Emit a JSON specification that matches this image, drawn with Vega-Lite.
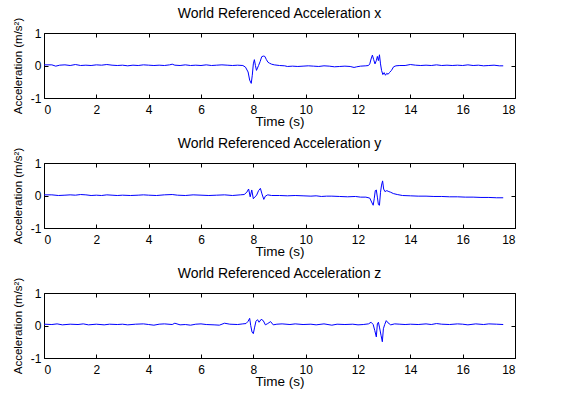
{
  "$schema": "https://vega.github.io/schema/vega-lite/v6.json",
  "background": "white",
  "padding": {"left": 11, "top": 6, "right": 5, "bottom": 5},
  "data": {"values": [
    {"p":"x","t":0,"v":0.02},{"p":"x","t":0.3,"v":0.02},{"p":"x","t":0.45,"v":-0.02},{"p":"x","t":0.6,"v":0.01},{"p":"x","t":0.8,"v":0.02},{"p":"x","t":1.0,"v":0.0},{"p":"x","t":1.2,"v":0.03},{"p":"x","t":1.4,"v":0.0},{"p":"x","t":1.6,"v":0.01},{"p":"x","t":1.8,"v":0.0},{"p":"x","t":2.0,"v":0.02},{"p":"x","t":2.2,"v":0.01},{"p":"x","t":2.4,"v":0.03},{"p":"x","t":2.6,"v":0.01},{"p":"x","t":2.8,"v":0.0},{"p":"x","t":3.0,"v":0.01},{"p":"x","t":3.2,"v":-0.01},{"p":"x","t":3.4,"v":0.01},{"p":"x","t":3.6,"v":0.0},{"p":"x","t":3.8,"v":0.02},{"p":"x","t":4.0,"v":0.01},{"p":"x","t":4.2,"v":0.0},{"p":"x","t":4.4,"v":0.01},{"p":"x","t":4.6,"v":0.0},{"p":"x","t":4.8,"v":0.02},{"p":"x","t":4.9,"v":0.04},{"p":"x","t":5.0,"v":0.01},{"p":"x","t":5.2,"v":0.0},{"p":"x","t":5.4,"v":0.02},{"p":"x","t":5.6,"v":0.0},{"p":"x","t":5.8,"v":0.01},{"p":"x","t":6.0,"v":0.0},{"p":"x","t":6.2,"v":0.02},{"p":"x","t":6.4,"v":0.0},{"p":"x","t":6.6,"v":0.01},{"p":"x","t":6.8,"v":0.02},{"p":"x","t":7.0,"v":0.01},{"p":"x","t":7.2,"v":0.0},{"p":"x","t":7.4,"v":0.01},{"p":"x","t":7.6,"v":0.0},{"p":"x","t":7.7,"v":-0.05},{"p":"x","t":7.8,"v":-0.2},{"p":"x","t":7.86,"v":-0.45},{"p":"x","t":7.92,"v":-0.55},{"p":"x","t":7.96,"v":-0.3},{"p":"x","t":8.0,"v":0.05},{"p":"x","t":8.04,"v":0.18},{"p":"x","t":8.08,"v":0.0},{"p":"x","t":8.12,"v":-0.15},{"p":"x","t":8.2,"v":0.0},{"p":"x","t":8.26,"v":0.12},{"p":"x","t":8.32,"v":0.27},{"p":"x","t":8.38,"v":0.29},{"p":"x","t":8.44,"v":0.28},{"p":"x","t":8.5,"v":0.18},{"p":"x","t":8.56,"v":0.1},{"p":"x","t":8.62,"v":0.07},{"p":"x","t":8.7,"v":0.04},{"p":"x","t":8.8,"v":0.02},{"p":"x","t":9.0,"v":0.0},{"p":"x","t":9.2,"v":-0.01},{"p":"x","t":9.3,"v":-0.03},{"p":"x","t":9.5,"v":-0.02},{"p":"x","t":9.7,"v":-0.03},{"p":"x","t":9.9,"v":-0.02},{"p":"x","t":10.1,"v":-0.01},{"p":"x","t":10.3,"v":-0.02},{"p":"x","t":10.5,"v":-0.03},{"p":"x","t":10.7,"v":-0.01},{"p":"x","t":10.9,"v":-0.02},{"p":"x","t":11.1,"v":-0.04},{"p":"x","t":11.3,"v":-0.03},{"p":"x","t":11.5,"v":-0.02},{"p":"x","t":11.7,"v":-0.03},{"p":"x","t":11.85,"v":-0.06},{"p":"x","t":11.95,"v":-0.04},{"p":"x","t":12.1,"v":-0.02},{"p":"x","t":12.3,"v":-0.01},{"p":"x","t":12.4,"v":0.0},{"p":"x","t":12.45,"v":0.05},{"p":"x","t":12.5,"v":0.2},{"p":"x","t":12.55,"v":0.32},{"p":"x","t":12.6,"v":0.18},{"p":"x","t":12.65,"v":0.05},{"p":"x","t":12.7,"v":0.15},{"p":"x","t":12.74,"v":0.28},{"p":"x","t":12.78,"v":0.15},{"p":"x","t":12.82,"v":0.33},{"p":"x","t":12.86,"v":0.05},{"p":"x","t":12.9,"v":-0.15},{"p":"x","t":12.95,"v":-0.28},{"p":"x","t":13.0,"v":-0.22},{"p":"x","t":13.05,"v":-0.3},{"p":"x","t":13.1,"v":-0.24},{"p":"x","t":13.15,"v":-0.27},{"p":"x","t":13.2,"v":-0.22},{"p":"x","t":13.28,"v":-0.15},{"p":"x","t":13.36,"v":-0.04},{"p":"x","t":13.45,"v":-0.01},{"p":"x","t":13.6,"v":0.0},{"p":"x","t":13.8,"v":0.0},{"p":"x","t":14.0,"v":0.03},{"p":"x","t":14.2,"v":0.01},{"p":"x","t":14.4,"v":0.0},{"p":"x","t":14.6,"v":0.01},{"p":"x","t":14.8,"v":0.0},{"p":"x","t":15.0,"v":0.02},{"p":"x","t":15.2,"v":0.0},{"p":"x","t":15.4,"v":0.01},{"p":"x","t":15.6,"v":0.0},{"p":"x","t":15.8,"v":0.01},{"p":"x","t":16.0,"v":0.0},{"p":"x","t":16.2,"v":0.02},{"p":"x","t":16.4,"v":0.0},{"p":"x","t":16.6,"v":0.01},{"p":"x","t":16.8,"v":-0.01},{"p":"x","t":17.0,"v":0.0},{"p":"x","t":17.2,"v":0.01},{"p":"x","t":17.4,"v":-0.01},{"p":"x","t":17.55,"v":-0.01},

    {"p":"y","t":0,"v":0.02},{"p":"y","t":0.3,"v":0.02},{"p":"y","t":0.55,"v":0.0},{"p":"y","t":0.8,"v":0.01},{"p":"y","t":1.0,"v":0.02},{"p":"y","t":1.2,"v":0.01},{"p":"y","t":1.4,"v":0.03},{"p":"y","t":1.6,"v":0.02},{"p":"y","t":1.8,"v":0.0},{"p":"y","t":2.0,"v":0.01},{"p":"y","t":2.2,"v":0.0},{"p":"y","t":2.4,"v":0.02},{"p":"y","t":2.6,"v":0.01},{"p":"y","t":2.8,"v":0.0},{"p":"y","t":3.0,"v":0.01},{"p":"y","t":3.3,"v":0.0},{"p":"y","t":3.6,"v":0.01},{"p":"y","t":3.8,"v":0.02},{"p":"y","t":4.0,"v":0.01},{"p":"y","t":4.3,"v":0.0},{"p":"y","t":4.6,"v":0.02},{"p":"y","t":4.9,"v":0.03},{"p":"y","t":5.1,"v":0.01},{"p":"y","t":5.4,"v":0.0},{"p":"y","t":5.7,"v":0.02},{"p":"y","t":6.0,"v":0.01},{"p":"y","t":6.3,"v":0.0},{"p":"y","t":6.6,"v":0.01},{"p":"y","t":6.9,"v":0.02},{"p":"y","t":7.2,"v":0.0},{"p":"y","t":7.5,"v":0.02},{"p":"y","t":7.65,"v":0.03},{"p":"y","t":7.75,"v":0.1},{"p":"y","t":7.82,"v":0.2},{"p":"y","t":7.88,"v":-0.04},{"p":"y","t":7.94,"v":0.17},{"p":"y","t":8.0,"v":-0.1},{"p":"y","t":8.06,"v":-0.04},{"p":"y","t":8.12,"v":0.0},{"p":"y","t":8.2,"v":0.15},{"p":"y","t":8.27,"v":0.22},{"p":"y","t":8.33,"v":0.05},{"p":"y","t":8.4,"v":-0.12},{"p":"y","t":8.46,"v":-0.02},{"p":"y","t":8.55,"v":0.02},{"p":"y","t":8.7,"v":0.0},{"p":"y","t":9.0,"v":0.0},{"p":"y","t":9.3,"v":-0.01},{"p":"y","t":9.6,"v":0.0},{"p":"y","t":9.9,"v":-0.01},{"p":"y","t":10.2,"v":-0.02},{"p":"y","t":10.4,"v":-0.01},{"p":"y","t":10.6,"v":-0.03},{"p":"y","t":10.8,"v":-0.02},{"p":"y","t":11.0,"v":-0.02},{"p":"y","t":11.3,"v":-0.03},{"p":"y","t":11.6,"v":-0.04},{"p":"y","t":11.9,"v":-0.03},{"p":"y","t":12.1,"v":-0.05},{"p":"y","t":12.3,"v":-0.05},{"p":"y","t":12.45,"v":-0.08},{"p":"y","t":12.52,"v":-0.2},{"p":"y","t":12.58,"v":-0.3},{"p":"y","t":12.62,"v":-0.1},{"p":"y","t":12.66,"v":0.15},{"p":"y","t":12.7,"v":0.17},{"p":"y","t":12.74,"v":-0.05},{"p":"y","t":12.78,"v":-0.28},{"p":"y","t":12.82,"v":-0.3},{"p":"y","t":12.86,"v":0.1},{"p":"y","t":12.9,"v":0.32},{"p":"y","t":12.94,"v":0.45},{"p":"y","t":12.98,"v":0.2},{"p":"y","t":13.03,"v":0.12},{"p":"y","t":13.1,"v":0.15},{"p":"y","t":13.18,"v":0.12},{"p":"y","t":13.25,"v":0.1},{"p":"y","t":13.35,"v":0.06},{"p":"y","t":13.5,"v":0.03},{"p":"y","t":13.7,"v":0.0},{"p":"y","t":14.0,"v":-0.01},{"p":"y","t":14.3,"v":-0.02},{"p":"y","t":14.6,"v":-0.02},{"p":"y","t":14.9,"v":-0.03},{"p":"y","t":15.2,"v":-0.03},{"p":"y","t":15.5,"v":-0.04},{"p":"y","t":15.8,"v":-0.04},{"p":"y","t":16.1,"v":-0.05},{"p":"y","t":16.4,"v":-0.05},{"p":"y","t":16.7,"v":-0.06},{"p":"y","t":17.0,"v":-0.06},{"p":"y","t":17.3,"v":-0.07},{"p":"y","t":17.55,"v":-0.07},

    {"p":"z","t":0,"v":0.04},{"p":"z","t":0.3,"v":0.03},{"p":"z","t":0.5,"v":0.05},{"p":"z","t":0.7,"v":0.02},{"p":"z","t":1.0,"v":0.04},{"p":"z","t":1.3,"v":0.03},{"p":"z","t":1.5,"v":0.05},{"p":"z","t":1.7,"v":0.02},{"p":"z","t":2.0,"v":0.04},{"p":"z","t":2.3,"v":0.02},{"p":"z","t":2.5,"v":0.04},{"p":"z","t":2.8,"v":0.03},{"p":"z","t":3.0,"v":0.04},{"p":"z","t":3.2,"v":0.02},{"p":"z","t":3.5,"v":0.04},{"p":"z","t":3.8,"v":0.05},{"p":"z","t":4.0,"v":0.03},{"p":"z","t":4.2,"v":0.01},{"p":"z","t":4.4,"v":0.04},{"p":"z","t":4.6,"v":0.05},{"p":"z","t":4.9,"v":0.03},{"p":"z","t":5.0,"v":0.07},{"p":"z","t":5.2,"v":0.02},{"p":"z","t":5.4,"v":0.03},{"p":"z","t":5.6,"v":0.01},{"p":"z","t":5.8,"v":0.04},{"p":"z","t":6.0,"v":0.05},{"p":"z","t":6.2,"v":0.03},{"p":"z","t":6.5,"v":0.02},{"p":"z","t":6.7,"v":0.01},{"p":"z","t":6.9,"v":0.07},{"p":"z","t":7.1,"v":0.04},{"p":"z","t":7.4,"v":0.03},{"p":"z","t":7.6,"v":0.05},{"p":"z","t":7.72,"v":0.06},{"p":"z","t":7.8,"v":0.13},{"p":"z","t":7.86,"v":0.22},{"p":"z","t":7.9,"v":0.0},{"p":"z","t":7.95,"v":-0.2},{"p":"z","t":8.0,"v":-0.25},{"p":"z","t":8.05,"v":-0.05},{"p":"z","t":8.1,"v":0.13},{"p":"z","t":8.16,"v":0.18},{"p":"z","t":8.22,"v":0.1},{"p":"z","t":8.3,"v":0.19},{"p":"z","t":8.38,"v":0.15},{"p":"z","t":8.46,"v":0.02},{"p":"z","t":8.55,"v":0.06},{"p":"z","t":8.66,"v":0.12},{"p":"z","t":8.76,"v":0.02},{"p":"z","t":8.9,"v":0.04},{"p":"z","t":9.1,"v":0.05},{"p":"z","t":9.4,"v":0.03},{"p":"z","t":9.6,"v":0.05},{"p":"z","t":9.9,"v":0.03},{"p":"z","t":10.2,"v":0.04},{"p":"z","t":10.4,"v":0.02},{"p":"z","t":10.7,"v":0.05},{"p":"z","t":11.0,"v":0.01},{"p":"z","t":11.2,"v":0.04},{"p":"z","t":11.5,"v":0.03},{"p":"z","t":11.8,"v":0.04},{"p":"z","t":12.0,"v":0.02},{"p":"z","t":12.2,"v":0.03},{"p":"z","t":12.4,"v":0.05},{"p":"z","t":12.5,"v":0.1},{"p":"z","t":12.58,"v":0.03},{"p":"z","t":12.64,"v":-0.15},{"p":"z","t":12.7,"v":-0.35},{"p":"z","t":12.74,"v":0.05},{"p":"z","t":12.78,"v":0.1},{"p":"z","t":12.82,"v":-0.05},{"p":"z","t":12.88,"v":-0.3},{"p":"z","t":12.93,"v":-0.5},{"p":"z","t":12.97,"v":-0.1},{"p":"z","t":13.02,"v":0.03},{"p":"z","t":13.08,"v":0.15},{"p":"z","t":13.15,"v":0.08},{"p":"z","t":13.25,"v":0.02},{"p":"z","t":13.4,"v":0.05},{"p":"z","t":13.6,"v":0.04},{"p":"z","t":13.8,"v":0.03},{"p":"z","t":14.0,"v":0.04},{"p":"z","t":14.3,"v":0.03},{"p":"z","t":14.6,"v":0.05},{"p":"z","t":14.8,"v":0.03},{"p":"z","t":15.0,"v":0.06},{"p":"z","t":15.2,"v":0.04},{"p":"z","t":15.5,"v":0.03},{"p":"z","t":15.8,"v":0.05},{"p":"z","t":16.0,"v":0.04},{"p":"z","t":16.2,"v":0.02},{"p":"z","t":16.5,"v":0.05},{"p":"z","t":16.8,"v":0.03},{"p":"z","t":17.0,"v":0.05},{"p":"z","t":17.3,"v":0.04},{"p":"z","t":17.55,"v":0.03}
  ]},
  "vconcat": [
    {
      "title": {"text": "World Referenced Acceleration x", "frame": "group"},
      "width": 471, "height": 65,
      "transform": [{"filter": "datum.p == 'x'"}],
      "layer": [
        {"mark": {"type": "line", "color": "#0000ff", "strokeWidth": 1},
         "encoding": {
           "x": {"field": "t", "type": "quantitative", "scale": {"domain": [0, 18], "nice": false, "zero": false}, "axis": {"orient": "bottom", "values": [0,2,4,6,8,10,12,14,16,18], "title": "Time (s)"}},
           "y": {"field": "v", "type": "quantitative", "scale": {"domain": [-1, 1], "nice": false}, "axis": {"orient": "left", "values": [-1,0,1], "title": "Acceleration (m/s²)", "labelExpr": "datum.value + ''"}}
         }},
        {"mark": {"type": "line", "opacity": 0},
         "encoding": {
           "x": {"field": "t", "type": "quantitative", "axis": {"orient": "top", "values": [0,2,4,6,8,10,12,14,16,18], "labels": false, "title": null}},
           "y": {"field": "v", "type": "quantitative", "axis": {"orient": "right", "values": [-1,0,1], "labels": false, "title": null}}
         }}
      ],
      "resolve": {"axis": {"x": "independent", "y": "independent"}}
    },
    {
      "title": {"text": "World Referenced Acceleration y", "frame": "group"},
      "width": 471, "height": 65,
      "transform": [{"filter": "datum.p == 'y'"}],
      "layer": [
        {"mark": {"type": "line", "color": "#0000ff", "strokeWidth": 1},
         "encoding": {
           "x": {"field": "t", "type": "quantitative", "scale": {"domain": [0, 18], "nice": false, "zero": false}, "axis": {"orient": "bottom", "values": [0,2,4,6,8,10,12,14,16,18], "title": "Time (s)"}},
           "y": {"field": "v", "type": "quantitative", "scale": {"domain": [-1, 1], "nice": false}, "axis": {"orient": "left", "values": [-1,0,1], "title": "Acceleration (m/s²)", "labelExpr": "datum.value + ''"}}
         }},
        {"mark": {"type": "line", "opacity": 0},
         "encoding": {
           "x": {"field": "t", "type": "quantitative", "axis": {"orient": "top", "values": [0,2,4,6,8,10,12,14,16,18], "labels": false, "title": null}},
           "y": {"field": "v", "type": "quantitative", "axis": {"orient": "right", "values": [-1,0,1], "labels": false, "title": null}}
         }}
      ],
      "resolve": {"axis": {"x": "independent", "y": "independent"}}
    },
    {
      "title": {"text": "World Referenced Acceleration z", "frame": "group"},
      "width": 471, "height": 65,
      "transform": [{"filter": "datum.p == 'z'"}],
      "layer": [
        {"mark": {"type": "line", "color": "#0000ff", "strokeWidth": 1},
         "encoding": {
           "x": {"field": "t", "type": "quantitative", "scale": {"domain": [0, 18], "nice": false, "zero": false}, "axis": {"orient": "bottom", "values": [0,2,4,6,8,10,12,14,16,18], "title": "Time (s)"}},
           "y": {"field": "v", "type": "quantitative", "scale": {"domain": [-1, 1], "nice": false}, "axis": {"orient": "left", "values": [-1,0,1], "title": "Acceleration (m/s²)", "labelExpr": "datum.value + ''"}}
         }},
        {"mark": {"type": "line", "opacity": 0},
         "encoding": {
           "x": {"field": "t", "type": "quantitative", "axis": {"orient": "top", "values": [0,2,4,6,8,10,12,14,16,18], "labels": false, "title": null}},
           "y": {"field": "v", "type": "quantitative", "axis": {"orient": "right", "values": [-1,0,1], "labels": false, "title": null}}
         }}
      ],
      "resolve": {"axis": {"x": "independent", "y": "independent"}}
    }
  ],
  "spacing": 65,
  "bounds": "flush",
  "config": {
    "font": "Liberation Sans",
    "view": {"stroke": "black", "strokeWidth": 1},
    "axis": {"grid": false, "domain": false, "ticks": true, "tickColor": "black", "tickSize": -4, "tickWidth": 1,
             "labelColor": "black", "labelFont": "Liberation Sans", "labelFontSize": 12,
             "titleColor": "black", "titleFont": "Liberation Sans", "titleFontSize": 13.5, "titleFontWeight": "normal"},
    "axisBottom": {"labelPadding": 10, "titlePadding": -1},
    "axisLeft": {"labelPadding": 7, "titleFontSize": 11.5, "titlePadding": 7},
    "axisTop": {"minExtent": 0, "maxExtent": 0, "labelPadding": 0},
    "axisRight": {"minExtent": 0, "maxExtent": 0, "labelPadding": 0},
    "title": {"font": "Liberation Sans", "fontSize": 14, "fontWeight": "normal", "color": "black", "offset": -4}
  }
}
